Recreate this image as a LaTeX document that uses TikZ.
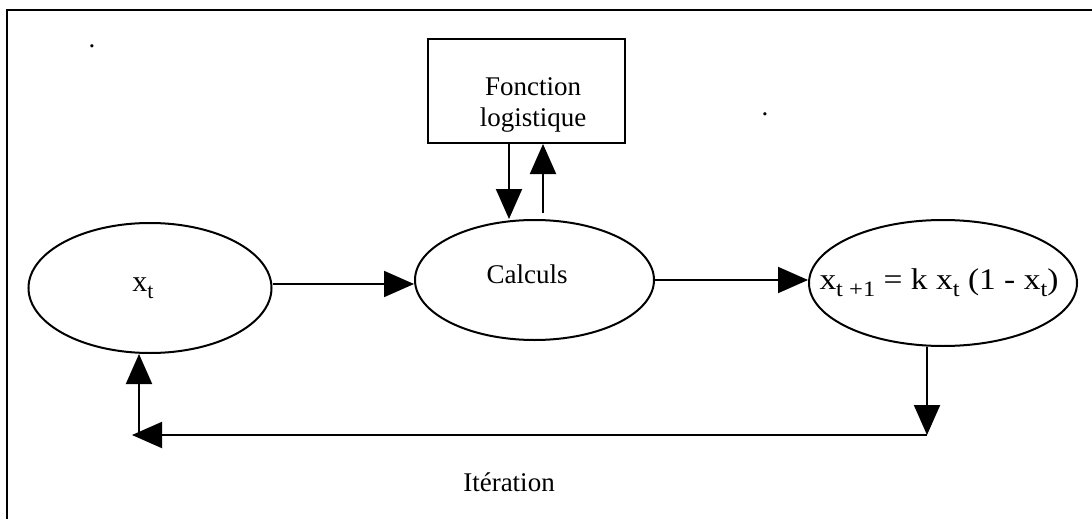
\documentclass[tikz,border=0pt]{standalone}
\usepackage{graphicx}
\usepackage{fontspec}
\setmainfont{Liberation Serif}
\usetikzlibrary{shapes.geometric,arrows.meta,calc}
\newcommand\lowsub[1]{\raisebox{-0.5ex}{\fontsize{11}{13}\selectfont #1}}

\begin{document}
\begin{tikzpicture}[x=0.5pt,y=-0.5pt,line width=1pt,
        oval/.style={draw,ellipse,inner sep=0pt},
        arr/.style={-{Triangle[length=15pt,width=13pt]}},
        lbl/.style={font=\fontsize{13.5}{15.5}\selectfont,align=center},
        big/.style={font=\fontsize{15}{17}\selectfont}]
        \useasboundingbox (0,0) rectangle (1092,519);
        \draw (7,519) -- (7,10) -- (1092,10);
        \node[lbl,anchor=base,inner sep=0pt] (dotA) at (92,48) {.};
        \node[lbl,anchor=base,inner sep=0pt] (dotB) at (765,116) {.};
        \node[draw,minimum width=98.5pt,minimum height=52pt,
            label={[lbl,xshift=3.25pt,yshift=-7pt]center:Fonction\\logistique}] (fl) at (526.5,91) {};
        \node[oval,minimum width=121.5pt,minimum height=65pt,
            label={[big,xshift=-3.5pt]center:x\lowsub{t}}] (xt) at (150,288) {};
        \node[oval,minimum width=119.5pt,minimum height=60pt,
            label={[lbl,xshift=-3.75pt,yshift=3pt]center:Calculs}] (calc) at (534.5,280) {};
        \node[oval,minimum width=134pt,minimum height=63pt,
            label={[big,xshift=-2pt]center:\resizebox{119.5pt}{\height}{x\lowsub{t +1} = k x\lowsub{t} (1 - x\lowsub{t})}}] (res) at (943,283) {};
        \node[lbl] (iter) at (509,482) {Itération};
        \draw[arr] ($(xt.east)+(0,2pt)$) -- ($(xt.east -| calc.west)+(0,2pt)$);
        \draw[arr] (calc.east) -- (calc.east -| res.west);
        \draw[arr] ($(fl.south)+(-8.75pt,0)$) -- ($(fl.south |- calc.north)+(-8.75pt,0)$);
        \draw[arr] ($(fl.south |- calc.north)+(8.25pt,3pt)$) -- ($(fl.south)+(8.25pt,0)$);
        \coordinate (br) at ($(res.south)+(-8pt,-44pt)$);
        \coordinate (bl) at ($(xt.south)+(-9pt,-40.5pt)$);
        \draw[arr] ($(res.south)+(-8pt,0)$) -- (br);
        \draw[arr] (br) -- (bl);
        \draw[arr] ($(bl)+(3.5pt,0)$) -- ($(xt.south)+(-5.5pt,0)$);
\end{tikzpicture}
\end{document}
